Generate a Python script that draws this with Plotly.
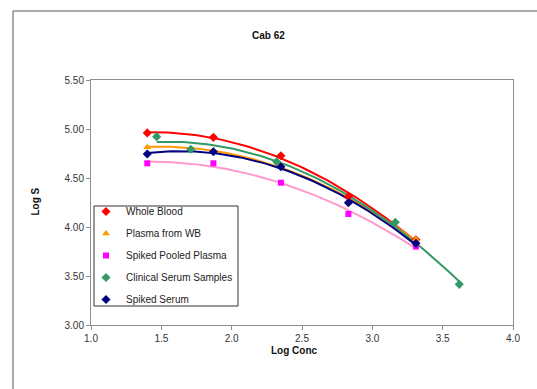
import numpy as np
import plotly.graph_objects as go

# ---- data ----
series_names = ["Whole Blood", "Plasma from WB", "Spiked Pooled Plasma",
                "Clinical Serum Samples", "Spiked Serum"]

wb_x = [1.40, 1.87, 2.35, 2.83, 3.31]
wb_y = [4.96, 4.915, 4.727, 4.31, 3.87]

pwb_x = [1.40, 1.87, 2.35, 2.83, 3.31]
pwb_y = [4.813, 4.78, 4.633, 4.26, 3.874]

spp_x = [1.40, 1.87, 2.35, 2.83, 3.31]
spp_y = [4.65, 4.65, 4.452, 4.133, 3.80]

css_x = [1.467, 1.709, 2.32, 3.163, 3.618]
css_y = [4.922, 4.793, 4.666, 4.048, 3.415]

ss_x = [1.40, 1.87, 2.35, 2.83, 3.31]
ss_y = [4.745, 4.768, 4.615, 4.248, 3.833]

x_ticks = [1.0, 1.5, 2.0, 2.5, 3.0, 3.5, 4.0]
y_ticks = [3.00, 3.50, 4.00, 4.50, 5.00, 5.50]

xs = [wb_x, pwb_x, spp_x, css_x, ss_x]
ys = [wb_y, pwb_y, spp_y, css_y, ss_y]
marker_colors = ["#FF0000", "#FF9900", "#FF00FF", "#339966", "#000080"]
line_colors = ["#FF0000", "#FF9900", "#FF99CC", "#339966", "#000080"]
symbols = ["diamond", "triangle-up", "square", "diamond", "diamond"]
sizes = [7, 7, 6, 7, 7]

FONT = "Arial, Liberation Sans, sans-serif"

fig = go.Figure()

# polynomial (order 2) trendlines, as in the original spreadsheet chart
for i, name in enumerate(series_names):
    x = np.array(xs[i]); y = np.array(ys[i])
    c = np.polyfit(x, y, 2)
    xx = np.linspace(x.min(), x.max(), 80)
    fig.add_trace(go.Scatter(x=xx, y=np.polyval(c, xx), mode="lines",
                             line=dict(color=line_colors[i], width=2),
                             showlegend=False, hoverinfo="skip"))

for i, name in enumerate(series_names):
    fig.add_trace(go.Scatter(x=xs[i], y=ys[i], mode="markers", name=name,
                             legendgroup=name,
                             marker=dict(symbol=symbols[i], color=marker_colors[i],
                                         size=sizes[i], line=dict(width=0))))

FW, FH = 537, 389
L, T, W, H = 91, 80, 422, 245


def px(x):  # reference pixel x -> paper x
    return (x - L) / W


def py(y):  # reference pixel y -> paper y
    return (T + H - y) / H


fig.update_layout(
    width=FW, height=FH,
    margin=dict(l=L, r=FW - L - W, t=T, b=FH - T - H),
    paper_bgcolor="white", plot_bgcolor="white",
    font=dict(family=FONT, size=10, color="#222222"),
    showlegend=True,
    legend=dict(x=px(86), y=py(197), xanchor="left", yanchor="top",
                bgcolor="rgba(0,0,0,0)", borderwidth=0,
                font=dict(size=10, color="#222222"), tracegroupgap=3,
                traceorder="grouped", itemwidth=30),
    xaxis=dict(range=[1.0, 4.0], tickvals=x_ticks,
               ticktext=[f"{v:.1f}" for v in x_ticks],
               showgrid=False, zeroline=False, showline=True, mirror=True,
               linecolor="#909090", linewidth=1, ticks="outside", ticklen=4,
               tickcolor="#909090", tickfont=dict(size=10, color="#333333")),
    yaxis=dict(range=[3.0, 5.5], tickvals=y_ticks,
               ticktext=[f"{v:.2f}" for v in y_ticks],
               showgrid=False, zeroline=False, showline=True, mirror=True,
               linecolor="#909090", linewidth=1, ticks="outside", ticklen=4,
               tickcolor="#909090", tickfont=dict(size=10, color="#333333")),
    shapes=[
        # outer chart-area frame (only top and left edges fall inside the view)
        dict(type="line", xref="paper", yref="paper",
             x0=px(13), x1=px(560), y0=py(11), y1=py(11),
             line=dict(color="#555555", width=1), layer="below"),
        dict(type="line", xref="paper", yref="paper",
             x0=px(13), x1=px(13), y0=py(11), y1=py(420),
             line=dict(color="#555555", width=1), layer="below"),
        # legend box
        dict(type="rect", xref="paper", yref="paper",
             x0=px(94), x1=px(238), y0=py(306), y1=py(206),
             line=dict(color="#333333", width=1), fillcolor="white",
             layer="above"),
    ],
    annotations=[
        dict(text="<b>Cab 62</b>", xref="paper", yref="paper",
             x=px(268), y=py(28), showarrow=False,
             font=dict(size=10, color="#111111")),
        dict(text="<b>Log Conc</b>", xref="paper", yref="paper",
             x=px(294), y=py(358), showarrow=False,
             font=dict(size=10, color="#111111")),
        dict(text="<b>Log S</b>", xref="paper", yref="paper", textangle=-90,
             x=px(27), y=py(202), showarrow=False,
             font=dict(size=10, color="#111111")),
    ],
)

fig.write_html(
    "out.html",
    config={"displayModeBar": False},
    post_script="document.body.style.margin='0';"
                "document.documentElement.style.overflow='hidden';"
                "document.body.style.overflow='hidden';",
)
